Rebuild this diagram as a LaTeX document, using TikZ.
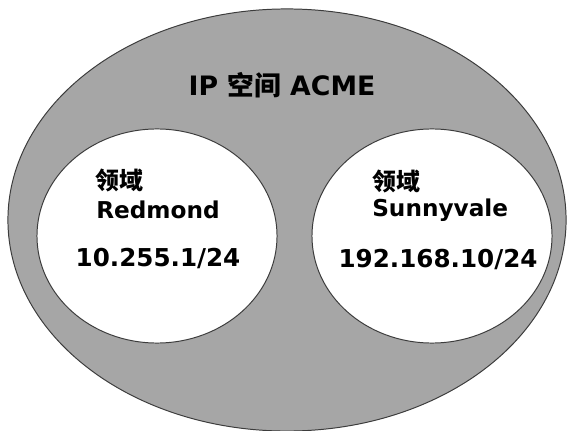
\documentclass[tikz,border=0pt]{standalone}
\usepackage{fontspec}
\setmainfont{DejaVu Sans}
\newfontfamily\cjk{Noto Sans CJK SC}
\usepackage{tikz}
\usetikzlibrary{positioning, shapes.geometric}
\definecolor{spacegray}{RGB}{166, 166, 166}
\definecolor{edgegray} {RGB}{60, 60, 60}
\tikzset{
  % IP space and domain ellipses
  spacebox/.style={
    ellipse, inner sep=0pt,
    minimum width=13.95cm, minimum height=10.55cm,
    fill=spacegray, draw=edgegray, line width=0.7pt
  },
  domainbox/.style={
    ellipse, inner sep=0pt,
    minimum width=6.0cm, minimum height=5.35cm,
    fill=white, draw=edgegray, line width=0.7pt
  },
  % Text styles
  titletext/.style={font=\fontsize{19pt}{22pt}\selectfont\bfseries, inner sep=0pt},
  tagtext/.style={font=\fontsize{17pt}{20pt}\selectfont\cjk\bfseries, inner sep=0pt, anchor=west},
  nametext/.style={font=\fontsize{16.5pt}{19pt}\selectfont\bfseries, inner sep=0pt, anchor=west},
  subnettext/.style={font=\fontsize{17.5pt}{20pt}\selectfont\bfseries, inner sep=0pt},
}
\begin{document}
\begin{tikzpicture}[x=0.025cm, y=-0.025cm]
  \useasboundingbox (0,0) rectangle (570,431);
  \node[spacebox] (acme) at (287,220) {};
  \node[titletext] (t) at (282,85) {IP {\cjk 空间} ACME};
  \node[domainbox] (d1) at (157,236) {};
  \node[domainbox] (d2) at (432,236) {};
  \node[tagtext]  (r1) at (95,180)  {领域};
  \node[nametext] (r2) at (96,210)  {Redmond};
  \node[subnettext] (r3) at (158,259) {10.255.1/24};
  \node[tagtext]  (s1) at (372,181) {领域};
  \node[nametext] (s2) at (372,210) {Sunnyvale};
  \node[subnettext] (s3) at (438,260) {192.168.10/24};
\end{tikzpicture}
\end{document}
